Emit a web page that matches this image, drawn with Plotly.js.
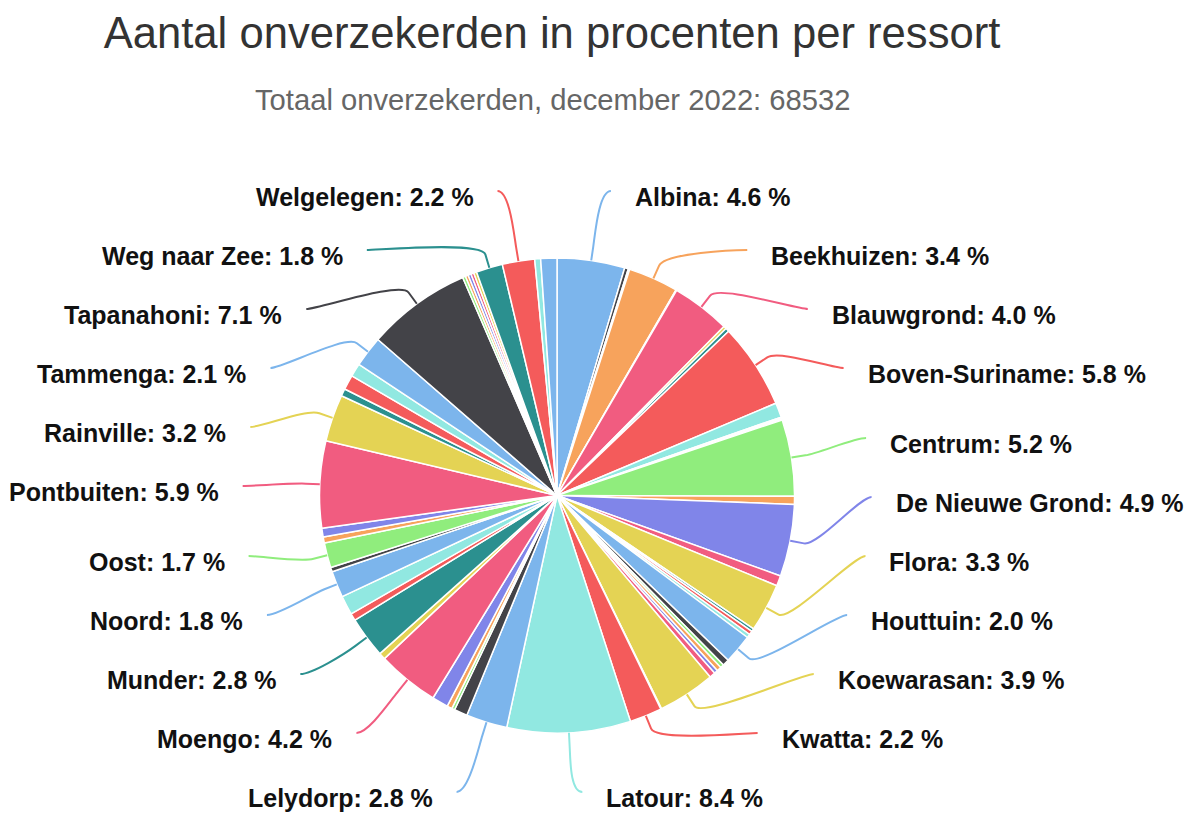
<!DOCTYPE html>
<html>
<head>
<meta charset="utf-8">
<script src="https://cdn.plot.ly/plotly-3.0.1.min.js"></script>
<style>
html, body { margin: 0; padding: 0; background: #ffffff; }
#chart { width: 1190px; height: 813px; }
</style>
</head>
<body>
<div id="chart"></div>
<script>
// ---------------- DATA ----------------
const chartTitle = 'Aantal onverzekerden in procenten per ressort';
const chartSubtitle = 'Totaal onverzekerden, december 2022: 68532';

const ressorts = [
  'Albina', 'Alkmaar', 'Bakki', 'Beekhuizen', 'Bigi Poika', 'Blauwgrond',
  'Boven Coppename', 'Boven Saramacca', 'Boven-Suriname', 'Brownsweg', 'Calcutta', 'Carolina',
  'Centrum', 'Coeroeni', 'De Nieuwe Grond', 'Domburg', 'Flora', 'Galibi',
  'Groningen', 'Groot Henar', 'Houttuin', 'Jarikaba', 'Johanna Maria', 'Kabalebo',
  'Kampong Baroe', 'Klaaskreek', 'Koewarasan', 'Kwakoegron', 'Kwatta', 'Latour',
  'Lelydorp', 'Livorno', 'Margaretha', 'Marshallkreek', 'Meerzorg', 'Moengo',
  'Moengotapoe', 'Munder', 'Nieuw Amsterdam', 'Nieuw Nickerie', 'Noord', 'Onbekend',
  'Oost', 'Oostelijke Polders', 'Patamacca', 'Pontbuiten', 'Rainville', 'Saramaccapolder',
  'Tamanredjo', 'Overig', 'Tammenga', 'Tapanahoni', 'Tapoeripa', 'Tijgerkreek',
  'Totness', 'Wageningen', 'Wanhatti', 'Weg naar Zee', 'Welgelegen', 'Westelijke Polders',
  'Zuid'
];

const percentages = [
  4.6, 0.25, 0.1, 3.4, 0.05, 4.0,
  0.2, 0.25, 5.8, 1.0, 0.1, 0.1,
  5.2, 0.55, 4.9, 0.7, 3.3, 0.2,
  0.25, 0.25, 2.0, 0.45, 0.25, 0.3,
  0.25, 0.4, 3.9, 0.05, 2.2, 8.4,
  2.8, 0.9, 0.2, 0.35, 1.1, 4.2,
  0.45, 2.8, 0.5, 1.3, 1.8, 0.3,
  1.7, 0.4, 0.6, 5.9, 3.2, 0.5,
  1.0, 0.9, 2.1, 7.1, 0.2, 0.2,
  0.2, 0.2, 0.2, 1.8, 2.2, 0.4,
  1.1
];

// ---------------- STYLE / LAYOUT ----------------
const W = 1190, H = 813;
const palette = ['#7cb5ec', '#434348', '#90ed7d', '#f7a35c', '#8085e9',
                 '#f15c80', '#e4d354', '#2b908f', '#f45b5b', '#91e8e1'];
const sliceColors = ressorts.map((_, i) => palette[i % palette.length]);

const dom = { x: [0.2685, 0.6677], y: [0.0984, 0.6827] };
const cx = W * (dom.x[0] + dom.x[1]) / 2;
const cy = H * (1 - (dom.y[0] + dom.y[1]) / 2);
const r = Math.min(W * (dom.x[1] - dom.x[0]), H * (dom.y[1] - dom.y[0])) / 2;

const labelDistance = 67;     // px beyond the pie edge
const R = r + labelDistance;
const sidePad = 10;
const breakOffset = 14;
const textGap = 23;
const textDy = 6;
const labelTop = 191, labelBottom = 792, labelStep = 59;
const minLabelled = 1.5;      // smaller slices get no label (as in the reference)
const labelFont = { family: 'Liberation Sans, Arial, sans-serif', size: 25, color: '#111111' };

// mid angles of the slices (clockwise from 12 o'clock)
const total = percentages.reduce((a, b) => a + b, 0);
let cum = 0;
const mids = percentages.map(v => { const m = (cum + v / 2) / total * 2 * Math.PI; cum += v; return m; });

const items = [];
percentages.forEach((v, i) => {
  if (v < minLabelled) return;
  const a = mids[i];
  items.push({
    i, a,
    right: a < Math.PI,
    t: cy - R * Math.cos(a)
  });
});

function distribute(list) {
  list.sort((p, q) => p.t - q.t);
  const n = list.length;
  const blocks = [];
  list.forEach((it, k) => {
    blocks.push({ sum: it.t - k * labelStep, cnt: 1 });
    while (blocks.length > 1) {
      const b = blocks[blocks.length - 1], p = blocks[blocks.length - 2];
      if (p.sum / p.cnt > b.sum / b.cnt) { p.sum += b.sum; p.cnt += b.cnt; blocks.pop(); }
      else break;
    }
  });
  const z = [];
  blocks.forEach(b => { for (let k = 0; k < b.cnt; k++) z.push(b.sum / b.cnt); });
  const lo = labelTop, hi = Math.max(labelBottom - (n - 1) * labelStep, lo);
  list.forEach((it, k) => { it.y = Math.min(Math.max(z[k], lo), hi) + k * labelStep; });
}
distribute(items.filter(d => d.right));
distribute(items.filter(d => !d.right));

const px = x => (x / W).toFixed(5);
const py = y => (1 - y / H).toFixed(5);

const shapes = [];
const annotations = [];
items.forEach(it => {
  const s = it.right ? 1 : -1;
  const yUse = (it.y < labelTop + 2 || it.y > labelBottom - 2) ? it.t : it.y;
  const dx = Math.sqrt(Math.max(0, R * R - (yUse - cy) * (yUse - cy)));
  const Lx = cx + s * (dx + sidePad), Ly = it.y;
  const Tx = cx + r * Math.sin(it.a), Ty = cy - r * Math.cos(it.a);
  const Bx = cx + (r + breakOffset) * Math.sin(it.a), By = cy - (r + breakOffset) * Math.cos(it.a);
  const c1x = Lx - s * 12, c1y = Ly;
  const c2x = 2 * Bx - Tx, c2y = 2 * By - Ty;
  const path = `M ${px(Lx)} ${py(Ly)} C ${px(c1x)} ${py(c1y)}, ${px(c2x)} ${py(c2y)}, ${px(Bx)} ${py(By)} L ${px(Tx)} ${py(Ty)}`;
  shapes.push({
    type: 'path', xref: 'paper', yref: 'paper', path,
    line: { color: sliceColors[it.i], width: 2 }
  });
  annotations.push({
    xref: 'paper', yref: 'paper',
    x: (Lx + s * textGap) / W, y: 1 - (Ly + textDy) / H,
    xanchor: it.right ? 'left' : 'right', yanchor: 'middle',
    text: '<b>' + ressorts[it.i] + ': ' + percentages[it.i].toFixed(1) + ' %</b>',
    showarrow: false, font: labelFont, borderpad: 0
  });
});

annotations.push({
  xref: 'paper', yref: 'paper', x: 553 / W, y: 1 - 100 / H,
  xanchor: 'center', yanchor: 'middle', showarrow: false,
  text: chartSubtitle,
  font: { family: 'Liberation Sans, Arial, sans-serif', size: 29.2, color: '#666666' }
});

const trace = {
  type: 'pie',
  labels: ressorts,
  values: percentages,
  sort: false,
  direction: 'clockwise',
  rotation: 0,
  domain: dom,
  marker: { colors: sliceColors, line: { color: '#ffffff', width: 1.5 } },
  textinfo: 'none',
  textposition: 'none',
  hovertemplate: '%{label}: %{value:.1f} %<extra></extra>'
};

const layout = {
  width: W, height: H,
  margin: { l: 0, r: 0, t: 0, b: 0 },
  paper_bgcolor: '#ffffff',
  showlegend: false,
  title: {
    text: chartTitle,
    x: 552 / W, xanchor: 'center', xref: 'paper',
    y: 1 - 33 / H, yanchor: 'middle', yref: 'container',
    font: { family: 'Liberation Sans, Arial, sans-serif', size: 43.6, color: '#333333' }
  },
  shapes, annotations
};

Plotly.newPlot('chart', [trace], layout, { displayModeBar: false, staticPlot: false });
</script>
</body>
</html>
